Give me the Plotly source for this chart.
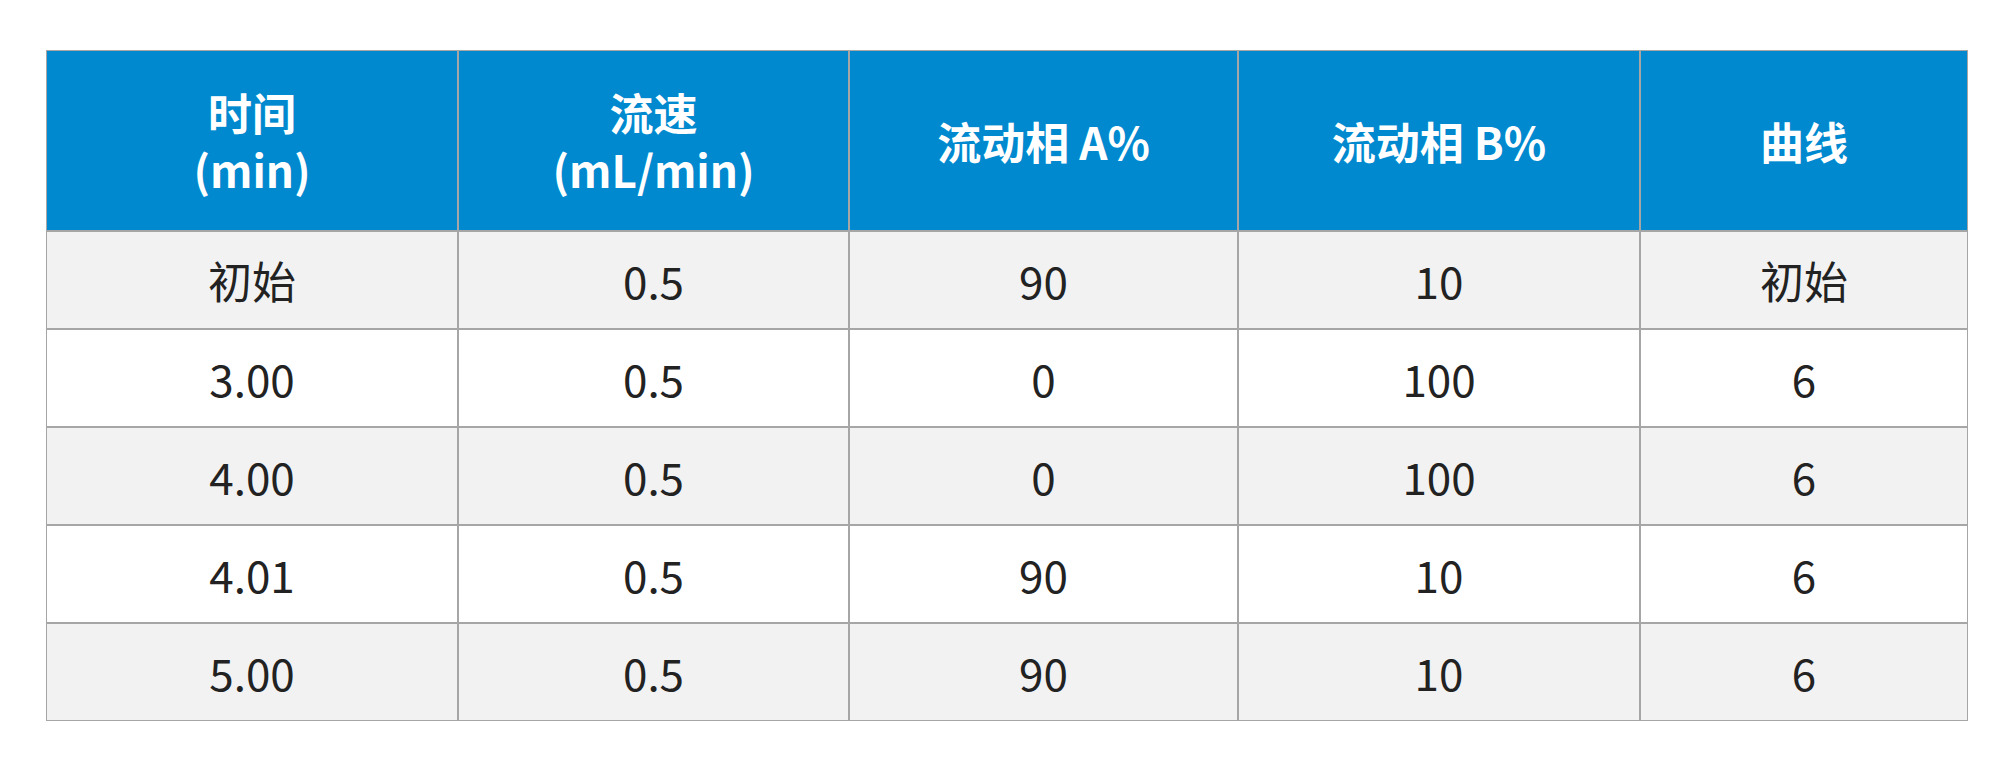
import plotly.graph_objects as go

headers = ["<b>时间<br>(min)</b>", "<b>流速<br>(mL/min)</b>", "<b>流动相 A%</b>", "<b>流动相 B%</b>", "<b>曲线</b>"]
time = ["初始", "3.00", "4.00", "4.01", "5.00"]
flow = ["0.5", "0.5", "0.5", "0.5", "0.5"]
phase_a = ["90", "0", "0", "90", "90"]
phase_b = ["10", "100", "100", "10", "10"]
curve = ["初始", "6", "6", "6", "6"]

col_widths = [323, 306, 305, 315, 257]
header_h = 181
row_h = 98
row_colors = ["#F2F2F3", "#FFFFFF", "#F2F2F3", "#FFFFFF", "#F2F2F3"]
header_color = "#0089CF"

columns = [time, flow, phase_a, phase_b, curve]
heights = [header_h] + [row_h] * len(time)
centers = []
acc = 0
for h in heights:
    centers.append(acc + h / 2)
    acc += h
total_h = acc

fig = go.Figure()
for j, col in enumerate(columns):
    texts = [headers[j]] + col
    colors = [header_color] + row_colors
    fcolors = ["white"] + ["#222222"] * len(col)
    fig.add_trace(go.Bar(
        orientation="h", y=centers, x=[col_widths[j]] * len(texts), width=heights,
        text=texts, textposition="inside", insidetextanchor="middle", textangle=0,
        marker=dict(color=colors, line=dict(color="#A6A6A6", width=2)),
        textfont=dict(family="Noto Sans CJK SC", size=[46] + [44] * len(col), color=fcolors),
        hoverinfo="skip", showlegend=False,
    ))

fig.update_layout(
    width=2000, height=760, barmode="stack", bargap=0,
    margin=dict(l=38, r=40, t=42, b=47), paper_bgcolor="white", plot_bgcolor="white",
    uniformtext=dict(minsize=44, mode="show"),
    xaxis=dict(range=[0, sum(col_widths)], visible=False, fixedrange=True),
    yaxis=dict(range=[total_h, 0], visible=False, fixedrange=True),
)
fig.write_html("out.html")
